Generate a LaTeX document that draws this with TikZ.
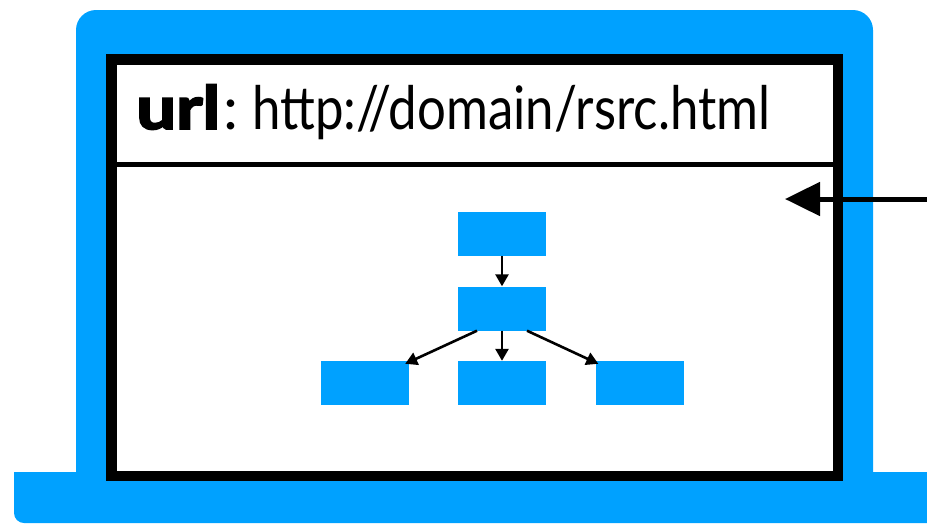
\documentclass[tikz,border=0pt]{standalone}
\usepackage{fontspec}
\setmainfont{Lato}
\usetikzlibrary{arrows.meta}
\definecolor{lapblue}{RGB}{0,161,255}
\tikzset{
  box/.style={fill=lapblue, draw=none, minimum width=88pt, minimum height=44pt, inner sep=0pt},
  link/.style={line width=2.6pt, -{Triangle[length=12pt,width=13pt]}},
  bigarrow/.style={line width=5pt, -{Triangle[length=35pt,width=33pt]}},
}
\begin{document}
\begin{tikzpicture}[x=1pt,y=-1pt]
\useasboundingbox (0,0) rectangle (927,523);
\clip (0,0) rectangle (927,523);
% laptop screen
\fill[lapblue, rounded corners=20pt] (76,10) rectangle (873,510);
% base
\fill[lapblue, rounded corners=10pt] (14,472) rectangle (950,523);
\fill[lapblue] (14,472) rectangle (950,495);
% browser window
\draw[line width=10.5pt, fill=white] (111.5,59.5) rectangle (838,476);
\draw[line width=5pt] (117,164) -- (833,164);
% url text
\node[anchor=base west, inner sep=0pt, font=\fontsize{60}{72}\selectfont] (url) at (136,129) {\resizebox{84pt}{\height}{\bfseries\addfontfeatures{FakeBold=3}url}\hspace{3pt}:\hspace{14pt}\resizebox{518pt}{\height}{http://domain/rsrc.html}};
% pointer arrow
\coordinate (ptrstart) at (927,199);
\coordinate (ptrend) at (785,199);
\draw[bigarrow] (ptrstart) -- (ptrend);
% small diagram
\node[box] (top) at (502,234) {};
\node[box] (mid) at (502,308.5) {};
\node[box] (bl) at (365,383) {};
\node[box] (bm) at (502,383) {};
\node[box] (br) at (639.5,383) {};
\draw[link] (top.south) -- (mid.north);
\draw[link] ([xshift=-25pt]mid.south) -- ([xshift=-4pt,yshift=-3pt]bl.north east);
\draw[link] (mid.south) -- (bm.north);
\draw[link] ([xshift=25pt]mid.south) -- ([xshift=3pt,yshift=-3pt]br.north west);
\end{tikzpicture}
\end{document}
